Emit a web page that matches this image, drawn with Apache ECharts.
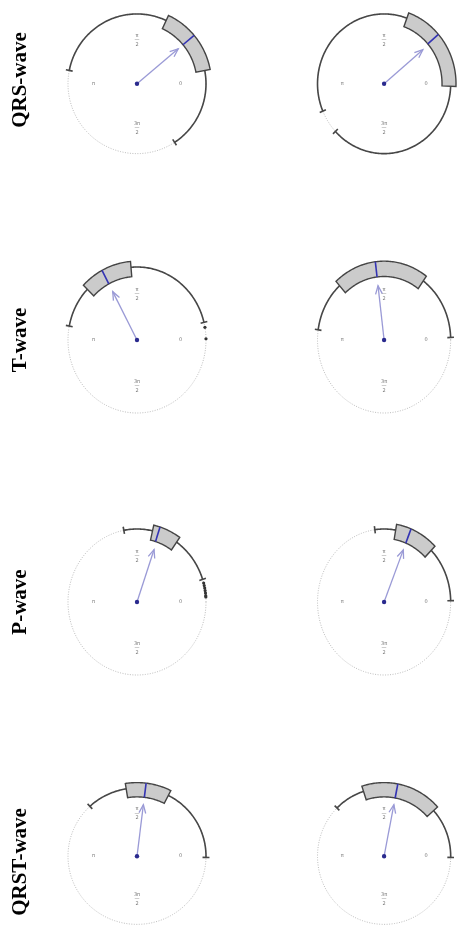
<!DOCTYPE html>
<html>
<head>
<meta charset="utf-8">
<script src="https://cdn.jsdelivr.net/npm/echarts@6/dist/echarts.min.js"></script>
<style>
  html, body { margin: 0; padding: 0; background: #ffffff; }
  #chart { width: 464px; height: 938px; }
</style>
</head>
<body>
<div id="chart"></div>
<script>
// Circular box plots of wave axes; angles in degrees, counter-clockwise from 0.
// Each pair is [left panel, right panel] for one wave.
const waveNames   = ['QRS-wave', 'T-wave', 'P-wave', 'QRST-wave'];
const whiskerLow  = [[-57, -137], [14, 2], [18, 1], [-1, -1]];
const quartile1   = [[11, -2], [95, 54], [55, 45], [63, 42]];
const medianDir   = [[40, 41], [118, 97], [72, 68], [83, 79]];
const quartile3   = [[65, 70], [136, 132], [77, 80], [99, 108]];
const whiskerHigh = [[169, 203], [169, 172], [101, 98], [133, 135]];
const meanDir     = [[40, 40], [118, 97], [71, 68], [83, 79]];
const meanLength  = [[0.78, 0.76], [0.75, 0.75], [0.76, 0.77], [0.76, 0.77]];
const outlierDirs = [[[], []], [[10, 1], []], [[15, 13, 11, 9, 7, 5, 4], []], [[], []]];
const tickAngles  = [0, 90, 180, 270];
const tickLabels  = ['0', 'π\n—\n2', 'π', '3π\n—\n2'];

// layout
const colX = [137, 387];
const rowY = [80, 340, 602, 862];
const RX = 69, RY = 73, LIM = 1.2;
const BOX_IN = 0.87, BOX_OUT = 1.08;

const rad = d => d * Math.PI / 180;
const pt = (api, deg, r) => api.coord([r * Math.cos(rad(deg)), r * Math.sin(rad(deg))]);
function arcPts(api, a0, a1, r) {
  const n = Math.max(2, Math.ceil(Math.abs(a1 - a0)));
  const out = [];
  for (let k = 0; k <= n; k++) out.push(pt(api, a0 + (a1 - a0) * k / n, r));
  return out;
}

const grids = [], xAxes = [], yAxes = [], series = [], graphics = [];

waveNames.forEach((name, w) => {
  graphics.push({
    type: 'text', x: 21, y: rowY[w], rotation: Math.PI / 2,
    style: {
      text: name, fill: '#000', align: 'center', verticalAlign: 'middle',
      font: 'bold 21px "Liberation Serif", "Times New Roman", serif'
    }
  });
  for (let c = 0; c < 2; c++) {
    const i = grids.length;
    grids.push({
      left: colX[c] - RX * LIM, top: rowY[w] - RY * LIM,
      width: 2 * RX * LIM, height: 2 * RY * LIM
    });
    xAxes.push({ gridIndex: i, type: 'value', min: -LIM, max: LIM, show: false });
    yAxes.push({ gridIndex: i, type: 'value', min: -LIM, max: LIM, show: false });
    const base = { type: 'custom', xAxisIndex: i, yAxisIndex: i, silent: true };

    // reference circle
    series.push(Object.assign({}, base, {
      z: 2, data: [[0, 360]],
      renderItem: (p, api) => ({
        type: 'polyline',
        shape: { points: arcPts(api, api.value(0), api.value(1), 1) },
        style: { stroke: '#bdbdbd', lineWidth: 1, lineDash: [1, 1.5], fill: null }
      })
    }));

    // whisker arc with end ticks
    series.push(Object.assign({}, base, {
      z: 3, data: [[whiskerLow[w][c], whiskerHigh[w][c]]],
      renderItem: (p, api) => {
        const a0 = api.value(0), a1 = api.value(1);
        const st = { stroke: '#474747', lineWidth: 1.6, fill: null };
        return {
          type: 'group', children: [
            { type: 'polyline', shape: { points: arcPts(api, a0, a1, 1) }, style: st },
            { type: 'polyline', shape: { points: [pt(api, a0, 0.95), pt(api, a0, 1.05)] }, style: st },
            { type: 'polyline', shape: { points: [pt(api, a1, 0.95), pt(api, a1, 1.05)] }, style: st }
          ]
        };
      }
    }));

    // interquartile box and median
    series.push(Object.assign({}, base, {
      z: 4, data: [[quartile1[w][c], quartile3[w][c], medianDir[w][c]]],
      renderItem: (p, api) => {
        const a0 = api.value(0), a1 = api.value(1), m = api.value(2);
        const poly = arcPts(api, a0, a1, BOX_OUT).concat(arcPts(api, a1, a0, BOX_IN));
        const a = pt(api, m, BOX_IN), b = pt(api, m, BOX_OUT);
        return {
          type: 'group', children: [
            { type: 'polygon', shape: { points: poly },
              style: { fill: '#cbcbcb', stroke: '#444444', lineWidth: 1.4 } },
            { type: 'line', shape: { x1: a[0], y1: a[1], x2: b[0], y2: b[1] },
              style: { stroke: '#3434b4', lineWidth: 1.6 } }
          ]
        };
      }
    }));

    // mean direction arrow
    series.push(Object.assign({}, base, {
      z: 5, data: [[meanDir[w][c], meanLength[w][c]]],
      renderItem: (p, api) => {
        const o = api.coord([0, 0]);
        const t = pt(api, api.value(0), api.value(1));
        const dx = t[0] - o[0], dy = t[1] - o[1], L = Math.hypot(dx, dy);
        const ux = dx / L, uy = dy / L, hl = 9, ha = rad(22);
        const rot = s => [t[0] - hl * (ux * Math.cos(s * ha) - uy * Math.sin(s * ha)),
                          t[1] - hl * (ux * Math.sin(s * ha) + uy * Math.cos(s * ha))];
        const st = { stroke: '#9a9ad6', lineWidth: 1.3, fill: null };
        return {
          type: 'group', children: [
            { type: 'line', shape: { x1: o[0], y1: o[1], x2: t[0], y2: t[1] }, style: st },
            { type: 'polyline', shape: { points: [rot(1), t, rot(-1)] }, style: st },
            { type: 'circle', shape: { cx: o[0], cy: o[1], r: 2.2 }, style: { fill: '#2a2a8e' } }
          ]
        };
      }
    }));

    // outlying observations
    if (outlierDirs[w][c].length) {
      series.push(Object.assign({}, base, {
        z: 6, data: outlierDirs[w][c].map(a => [a]),
        renderItem: (p, api) => {
          const q = pt(api, api.value(0), 1.0);
          return { type: 'circle', shape: { cx: q[0], cy: q[1], r: 1.6 }, style: { fill: '#333' } };
        }
      }));
    }

    // angle labels
    series.push(Object.assign({}, base, {
      z: 6, data: tickAngles.map((a, k) => [a, k]),
      renderItem: (p, api) => {
        const q = pt(api, api.value(0), 0.63);
        return {
          type: 'text', x: q[0], y: q[1],
          style: {
            text: tickLabels[api.value(1)], fill: '#7a7a7a', align: 'center', verticalAlign: 'middle',
            fontSize: 5, lineHeight: 4.5, fontFamily: 'DejaVu Sans'
          }
        };
      }
    }));
  }
});

const chart = echarts.init(document.getElementById('chart'), null, { renderer: 'canvas' });
chart.setOption({
  animation: false,
  backgroundColor: '#ffffff',
  grid: grids,
  xAxis: xAxes,
  yAxis: yAxes,
  series: series,
  graphic: graphics
});
</script>
</body>
</html>
